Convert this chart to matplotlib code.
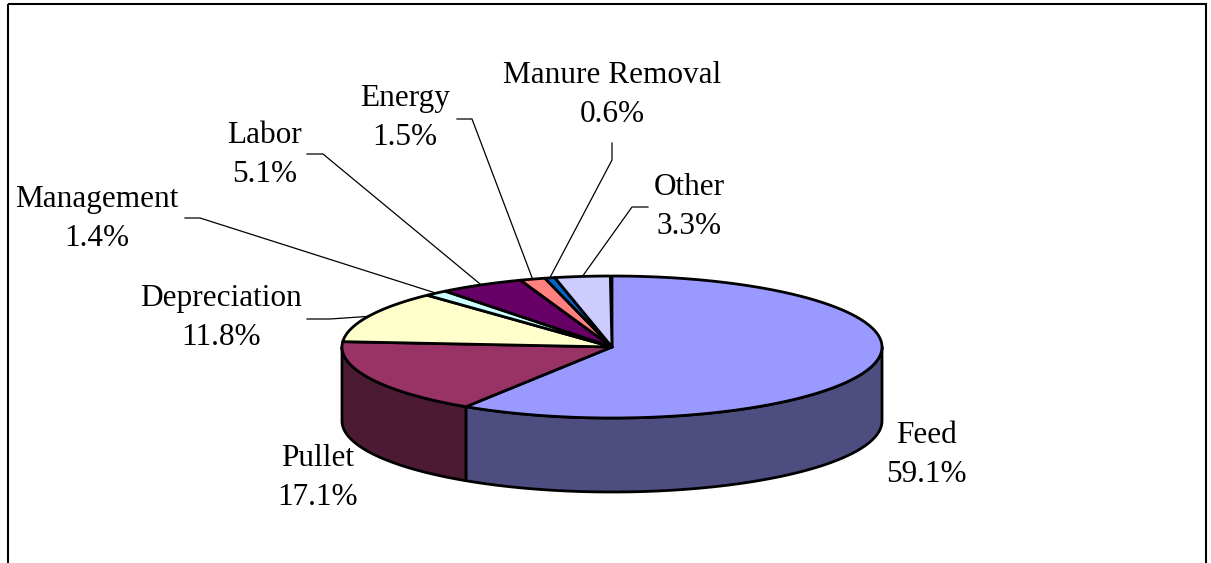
import numpy as np
from matplotlib import pyplot as plt
from matplotlib.patches import Polygon, Rectangle

# cost shares (%), clockwise from 12 o'clock
labels = ['Feed', 'Pullet', 'Depreciation', 'Management', 'Labor',
          'Energy', 'Manure Removal', 'Other']
shares = [59.1, 17.1, 11.8, 1.4, 5.1, 1.5, 0.6, 3.3]
top_colors = ['#9999FF', '#993366', '#FFFFCC', '#CCFFFF', '#660066',
              '#FF8080', '#0066CC', '#CCCCFF']

# layout in pixels (y downwards)
cx, cy, rx, ry, depth = 612, 347, 270, 71, 74
label_pos = [(926, 455), (318, 478), (221, 318), (97, 219), (265, 155),
             (405, 118), (612, 95), (689, 207)]
# leader line: elbow point and end point near the text (None = no leader)
leaders = [None, None,
           ((330, 319), (307, 319)),
           ((200, 218), (185, 218)),
           ((323, 154), (307, 154)),
           ((472, 119), (457, 119)),
           ((612, 160), (612, 143)),
           ((632, 207), (648, 207))]


def pt(t, dy=0):
    t = np.radians(t)
    return cx + rx * np.cos(t), cy - ry * np.sin(t) + dy


def darker(c):
    c = c.lstrip('#')
    return tuple(int(c[i:i + 2], 16) / 255 * 0.5 for i in (0, 2, 4))


fig = plt.figure(figsize=(12.11, 5.63), dpi=100)
ax = fig.add_axes([0, 0, 1, 1])
ax.set_xlim(0, 1211)
ax.set_ylim(563, 0)
ax.axis('off')

ax.add_patch(Rectangle((8, 4), 1198, 620, fill=False, ec='black', lw=1.5))

# angle ranges (degrees, counter-clockwise math convention)
bounds = 90 - 3.6 * np.concatenate([[0], np.cumsum(shares)])
ranges = [(bounds[i + 1], bounds[i]) for i in range(len(shares))]

# side walls for the front half (180..360)
for (a, b), col in zip(ranges, top_colors):
    while a < 0:
        a += 360
        b += 360
    for off in (0, 360):
        s, e = max(a, 180 + off), min(b, 360 + off)
        if e <= s:
            continue
        ts = np.linspace(s, e, 80)
        upper = [pt(t) for t in ts]
        lower = [pt(t, depth) for t in ts[::-1]]
        ax.add_patch(Polygon(upper + lower, closed=True, fc=darker(col),
                             ec='black', lw=2, joinstyle='round'))

# top sectors
for (a, b), col in zip(ranges, top_colors):
    ts = np.linspace(a, b, max(int((b - a) * 2), 4))
    poly = [(cx, cy)] + [pt(t) for t in ts]
    ax.add_patch(Polygon(poly, closed=True, fc=col, ec='black', lw=2,
                         joinstyle='round'))

# labels and leader lines
for i, (name, v) in enumerate(zip(labels, shares)):
    x, y = label_pos[i]
    ax.text(x, y, f'{name}\n{v:.1f}%', ha='center', va='center',
            fontsize=22.5, family=['Liberation Serif', 'DejaVu Serif'],
            linespacing=1.45)
    if leaders[i] is not None:
        a, b = ranges[i]
        sx, sy = pt((a + b) / 2)
        (ex, ey), (fx, fy) = leaders[i]
        ax.plot([sx, ex, fx], [sy, ey, fy], color='black', lw=0.9)

fig.savefig('out.png', dpi=100)
